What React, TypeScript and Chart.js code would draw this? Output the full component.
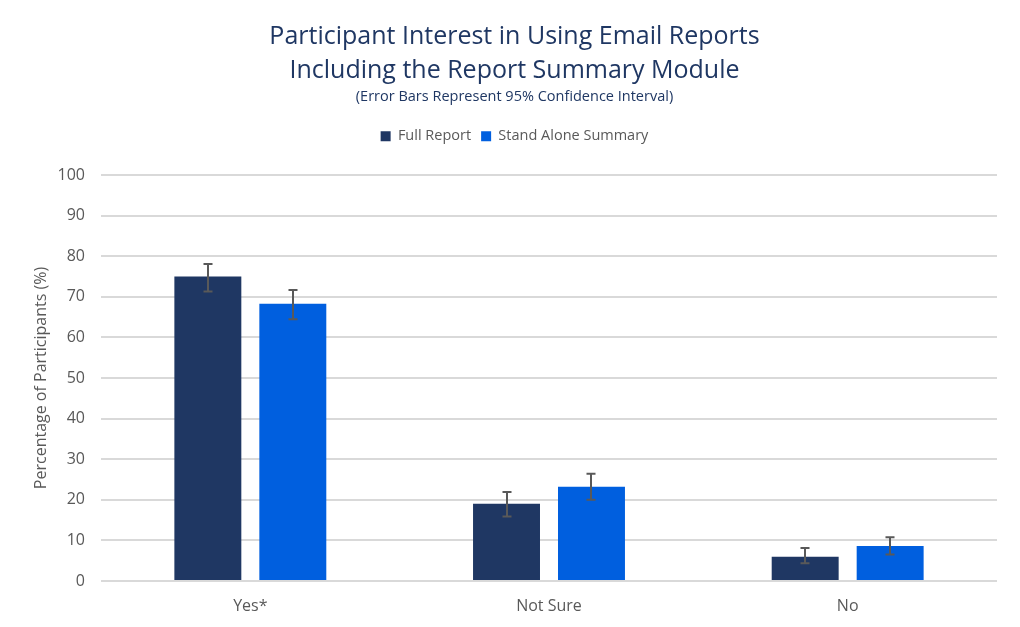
import React, { useEffect, useRef } from "react";
import { Chart, registerables, layouts } from "chart.js";

Chart.register(...registerables);

const categories = ["Yes*", "Not Sure", "No"];
const fullReport = [75, 19, 6];
const fullLow = [71.3, 15.9, 4.4];
const fullHigh = [78.1, 21.9, 8.1];
const standAlone = [68.3, 23.2, 8.6];
const standLow = [64.5, 20.0, 6.5];
const standHigh = [71.7, 26.4, 10.8];
const yTicks = [0, 10, 20, 30, 40, 50, 60, 70, 80, 90, 100];

const FONT = "'Open Sans', 'Noto Sans', sans-serif";

const errorBarPlugin = {
  id: "errorBars",
  afterDatasetsDraw(chart: any) {
    const ctx = chart.ctx;
    const y = chart.scales.y;
    const ranges = [
      [fullLow, fullHigh],
      [standLow, standHigh],
    ];
    ctx.save();
    ctx.strokeStyle = "#595959";
    ctx.lineWidth = 2;
    chart.data.datasets.forEach((_: any, di: number) => {
      const meta = chart.getDatasetMeta(di);
      meta.data.forEach((bar: any, i: number) => {
        const x = Math.round(bar.x);
        const yLo = y.getPixelForValue(ranges[di][0][i]);
        const yHi = y.getPixelForValue(ranges[di][1][i]);
        ctx.beginPath();
        ctx.moveTo(x, yLo);
        ctx.lineTo(x, yHi);
        ctx.moveTo(x - 4.5, yLo);
        ctx.lineTo(x + 4.5, yLo);
        ctx.moveTo(x - 4.5, yHi);
        ctx.lineTo(x + 4.5, yHi);
        ctx.stroke();
      });
    });
    ctx.restore();
  },
};

const SPACER_HEIGHT = 21.5;

const spacerPlugin = {
  id: "legendSpacer",
  beforeInit(chart: any) {
    const box: any = {
      position: "top",
      weight: 500,
      fullSize: true,
      options: { stackWeight: 1 },
      top: 0,
      left: 0,
      right: 0,
      bottom: 0,
      width: 0,
      height: 0,
      isHorizontal() {
        return true;
      },
      update(maxWidth: number) {
        this.width = maxWidth;
        this.height = SPACER_HEIGHT;
        this.right = this.left + maxWidth;
        this.bottom = this.top + SPACER_HEIGHT;
      },
      getPadding() {
        return { left: 0, right: 0, top: 0, bottom: 0 };
      },
      draw() {},
    };
    layouts.addBox(chart, box);
  },
};

export default function App() {
  const ref = useRef<HTMLCanvasElement>(null);
  useEffect(() => {
    if (!ref.current) return;
    const chart = new Chart(ref.current, {
      type: "bar",
      data: {
        labels: categories,
        datasets: [
          {
            label: "Full Report",
            data: fullReport,
            backgroundColor: "#1F3763",
            categoryPercentage: 0.569,
            barPercentage: 0.788,
          },
          {
            label: "Stand Alone Summary",
            data: standAlone,
            backgroundColor: "#005FDF",
            categoryPercentage: 0.569,
            barPercentage: 0.788,
          },
        ],
      },
      options: {
        animation: false,
        responsive: false,
        maintainAspectRatio: false,
        layout: { padding: { left: 32, right: 23, top: 0, bottom: -5.2 } },
        plugins: {
          title: {
            display: true,
            text: [
              "Participant Interest in Using Email Reports",
              "Including the Report Summary Module",
            ],
            color: "#1F3763",
            font: { family: FONT, size: 25, weight: "normal", lineHeight: 1.36 },
            padding: { top: 20, bottom: 0 },
          },
          subtitle: {
            display: true,
            text: "(Error Bars Represent 95% Confidence Interval)",
            color: "#1F3763",
            font: { family: FONT, size: 14.5, weight: "normal", lineHeight: 1.2 },
            padding: { top: 0, bottom: 13.6 },
          },
          legend: {
            display: true,
            position: "top",
            labels: {
              boxWidth: 10,
              boxHeight: 10,
              color: "#595959",
              font: { family: FONT, size: 14.5 },
              padding: 10,
            },
          },
          tooltip: { enabled: false },
        },
        scales: {
          x: {
            grid: { display: false, drawTicks: false },
            border: { display: false },
            ticks: {
              color: "#595959",
              font: { family: FONT, size: 16 },
              padding: 16,
            },
          },
          y: {
            min: 0,
            max: 100,
            afterBuildTicks(scale: any) {
              scale.ticks = yTicks.map((v) => ({ value: v }));
            },
            grid: { color: "#D9D9D9", lineWidth: 2, drawTicks: false },
            border: { display: false },
            ticks: {
              color: "#595959",
              font: { family: FONT, size: 16 },
              padding: 16,
            },
            title: {
              display: true,
              text: "Percentage of Participants (%)",
              color: "#595959",
              font: { family: FONT, size: 16 },
              padding: { top: 0, bottom: 6 },
            },
            afterFit(scale: any) {
              scale.width = 69;
            },
          },
        },
      },
      plugins: [errorBarPlugin, spacerPlugin],
    });
    return () => chart.destroy();
  }, []);
  return (
    <div style={{ position: "absolute", left: 0, top: 0, width: 1020, height: 627, background: "#fff" }}>
      <canvas ref={ref} width={1020} height={627} />
    </div>
  );
}
